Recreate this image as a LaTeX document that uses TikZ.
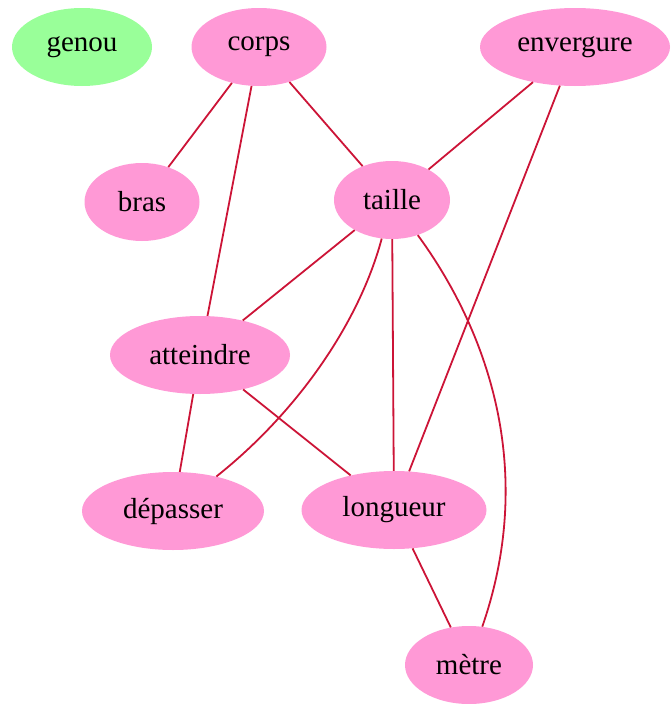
\documentclass[tikz,border=0pt]{standalone}
\usepackage{fontspec}
\setmainfont{Liberation Serif}
\usetikzlibrary{shapes.geometric}
\definecolor{motrose}{RGB}{255,153,214}
\definecolor{motvert}{RGB}{153,255,153}
\definecolor{lienrouge}{RGB}{204,20,55}
\tikzset{
    mot/.style={ellipse, fill=motrose, minimum height=78pt, inner sep=0pt, font=\fontsize{29}{32}\selectfont},
    lien/.style={draw=lienrouge, line width=1.8pt}
}

\begin{document}
\begin{tikzpicture}[x=1pt,y=-1pt]
\useasboundingbox (0,0) rectangle (670,704);
\foreach \x/\y/\w/\p/\labeltext in {259/47/135/corps/{corps}, 575/47/190/envergure/{envergure}, 142/202/115/bras/{bras}, 392/200/116/taille/{taille}, 200/355/180/atteindre/{atteindre}, 173/511/182/depasser/{dépasser}, 394/510/185/longueur/{longueur}, 469/665/128/metre/{mètre}}{
\node[mot, minimum width=\w pt] (\p) at (\x,\y) {\labeltext};
}
\node[mot, fill=motvert, minimum width=140pt] (genou) at (82,47) {genou};
\foreach \a/\b in {corps/bras, corps/atteindre, corps/taille, envergure/taille, envergure/longueur, taille/atteindre, taille/longueur, atteindre/depasser, atteindre/longueur, longueur/metre}{
\draw[lien] (\a) -- (\b);
}
\draw[lien] (taille) .. controls (360,320) and (300,410) .. (depasser);
\draw[lien] (taille) .. controls (480,320) and (540,460) .. (metre);
\end{tikzpicture}
\end{document}
